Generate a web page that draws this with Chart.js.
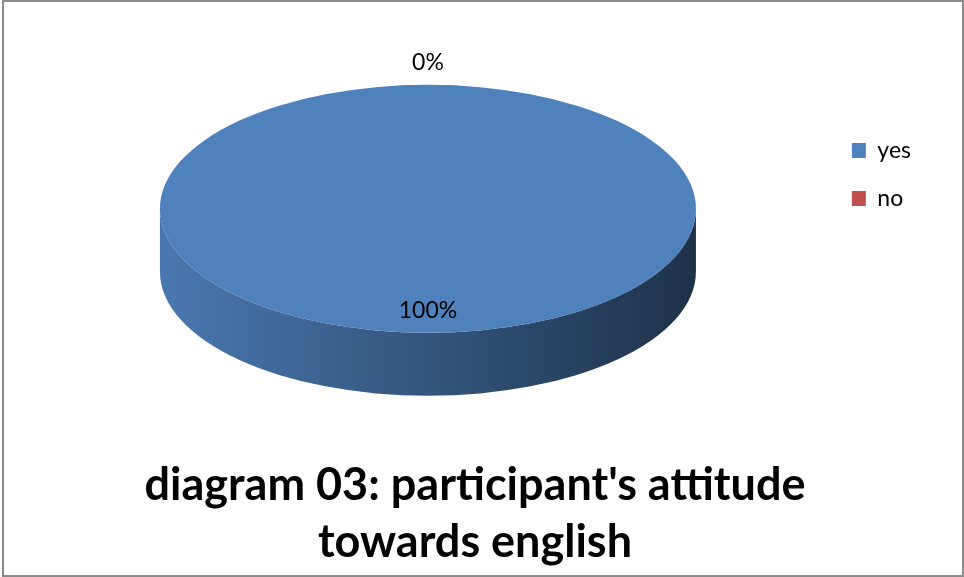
<!DOCTYPE html>
<html>
<head>
<meta charset="utf-8">
<title>diagram 03</title>
<script src="https://cdn.jsdelivr.net/npm/chart.js@4.4.1/dist/chart.umd.min.js"></script>
<style>
  body { margin: 0; background: #fff; }
  #wrap { position: relative; width: 964px; height: 577px; }
  #wrap canvas { position: absolute; left: 0; top: 0; }
  #frame { position: absolute; left: 2px; top: 0; width: 958px; height: 573px; border: 2px solid #8a8a8a; pointer-events: none; }
</style>
</head>
<body>
<div id="wrap">
  <canvas id="pie" width="964" height="577"></canvas>
  <div id="frame"></div>
</div>
<script>
// data
const answers = ['yes', 'no'];
const shares = [100, 0];
const sliceColors = ['#4f81bd', '#c0504d'];
const titleLines = ["diagram 03: participant's attitude", 'towards english'];

// look of the tilted pie
const rimX = 268;   // horizontal radius of the top face
const rimY = 124;   // vertical radius of the top face
const depth = 63;   // height of the side wall

function shade(hex, f) {
  const n = parseInt(hex.slice(1), 16);
  const r = Math.round(((n >> 16) & 255) * f);
  const g = Math.round(((n >> 8) & 255) * f);
  const b = Math.round((n & 255) * f);
  return `rgb(${r},${g},${b})`;
}

const pie3d = {
  id: 'pie3d',
  beforeDatasetsDraw(chart) {
    const ctx = chart.ctx;
    const arcs = chart.getDatasetMeta(0).data;
    const cx = arcs[0].x, cy = arcs[0].y, R = arcs[0].outerRadius;

    // side wall, only the front half is visible
    arcs.forEach((arc, i) => {
      const base = sliceColors[i];
      const grad = ctx.createLinearGradient(cx - rimX, 0, cx + rimX, 0);
      grad.addColorStop(0, shade(base, 0.93));
      grad.addColorStop(0.5, shade(base, 0.66));
      grad.addColorStop(1, shade(base, 0.38));
      for (let k = -1; k <= 1; k++) {
        const s = Math.max(arc.startAngle, 2 * Math.PI * k);
        const e = Math.min(arc.endAngle, Math.PI + 2 * Math.PI * k);
        if (e - s < 0.0001) continue;
        ctx.beginPath();
        ctx.ellipse(cx, cy, rimX, rimY, 0, s, e);
        ctx.ellipse(cx, cy + depth, rimX, rimY, 0, e, s, true);
        ctx.closePath();
        ctx.fillStyle = grad;
        ctx.fill();
      }
    });

    // squash the library's circle into the top face
    ctx.save();
    ctx.translate(cx, cy);
    ctx.scale(rimX / R, rimY / R);
    ctx.translate(-cx, -cy);
  },
  afterDatasetsDraw(chart) {
    const ctx = chart.ctx;
    ctx.restore();

    const arcs = chart.getDatasetMeta(0).data;
    const values = chart.data.datasets[0].data;
    const total = values.reduce((a, b) => a + b, 0);
    ctx.save();
    ctx.font = '23px Lato';
    ctx.fillStyle = '#000';
    ctx.textAlign = 'center';
    ctx.textBaseline = 'middle';
    arcs.forEach((arc, i) => {
      const share = values[i] / total;
      const mid = (arc.startAngle + arc.endAngle) / 2;
      const f = share < 0.05 ? 1.18 : 0.82;
      const x = arc.x + rimX * f * Math.cos(mid);
      const y = arc.y + rimY * f * Math.sin(mid);
      ctx.fillText(Math.round(share * 100) + '%', x, y);
    });
    ctx.restore();
  }
};

new Chart(document.getElementById('pie'), {
  type: 'pie',
  data: {
    labels: answers,
    datasets: [{
      data: shares,
      backgroundColor: sliceColors,
      borderWidth: 0,
      clip: false
    }]
  },
  options: {
    responsive: false,
    animation: false,
    events: [],
    layout: { padding: { left: 29, right: 43, top: 0, bottom: 0 } },
    plugins: {
      tooltip: { enabled: false },
      legend: {
        position: 'right',
        align: 'start',
        title: { display: true, text: ' ', font: { size: 10, lineHeight: 1 }, padding: { top: 104, bottom: 0 } },
        labels: {
          boxWidth: 14,
          boxHeight: 15,
          padding: 25,
          color: '#000',
          font: { family: 'Lato', size: 23 }
        }
      },
      title: {
        display: true,
        position: 'bottom',
        text: titleLines,
        color: '#000',
        font: { family: 'Lato', size: 45, weight: 'bold', lineHeight: 1.26 },
        padding: { top: 40, bottom: 6 }
      }
    }
  },
  plugins: [pie3d]
});
</script>
</body>
</html>
